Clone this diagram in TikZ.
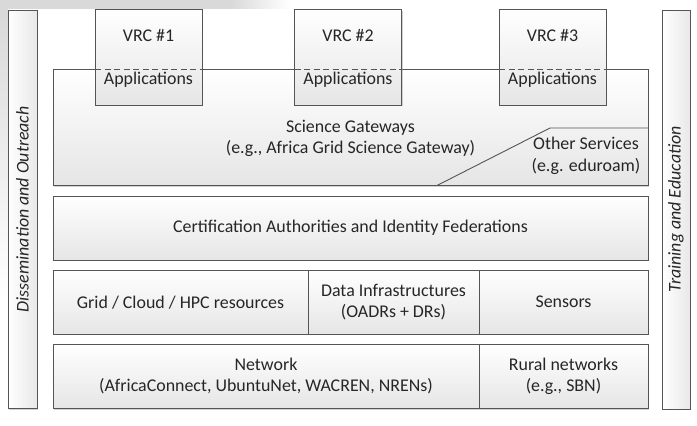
\documentclass[tikz,border=0pt]{standalone}
\usepackage{fontspec}
\setmainfont{Carlito}
\usetikzlibrary{shadows}
\definecolor{edgec}{HTML}{555555}
\definecolor{txt}{HTML}{262626}
\tikzset{
 box/.style={draw=edgec, line width=0.9pt, top color=white, bottom color=black!10,
   drop shadow={shadow xshift=1.3pt, shadow yshift=-1.3pt, fill=black!40, opacity=0.45},
   inner sep=0pt, outer sep=0pt},
 vbar/.style={box, left color=white, right color=black!9},
 lbl/.style={text=txt, font=\fontsize{17.9}{21.5}\selectfont, align=center, inner sep=0pt},
 vlbl/.style={lbl, font=\fontsize{17.9}{21.5}\selectfont\itshape, rotate=90},
 sepline/.style={draw=edgec, line width=0.9pt},
}
\begin{document}
\begin{tikzpicture}[x=1pt,y=-1pt]
\useasboundingbox (0,0) rectangle (697,426);
% background tint at the top-left
\fill[black!15] (0,0) rectangle (230,8.5);
\shade[left color=black!15, right color=white] (230,0) rectangle (290,8.5);
\shade[top color=black!15, bottom color=white] (0,8.5) rectangle (8,300);

% side bars
\node[vbar, minimum width=29pt, minimum height=398.5pt] (diss) at (22.5,209.25) {};
\node[vlbl] (disst) at (diss.center) {Dissemination and Outreach};
\node[vbar, minimum width=28pt, minimum height=399pt] (train) at (676,209.5) {};
\node[vlbl] (traint) at (train.center) {Training and Education};

% science gateways
\node[box, minimum width=595pt, minimum height=116.5pt] (sg) at (350.5,127.25) {};
\node[lbl] (sgt) at (350.5,138.5) {Science Gateways\\(e.g., Africa Grid Science Gateway)};
\coordinate (os1) at (437,185.5);
\coordinate (os2) at (550,128);
\coordinate (os3) at (648,128);
\draw[sepline] (os1) -- (os2) -- (os3);
\node[lbl] (ost) at (586,156) {Other Services\\(e.g. eduroam)};

% VRC boxes
\foreach \n/\cx/\t in {vrc1/148.5/1, vrc2/348/2, vrc3/552.5/3}{
  \node[box, minimum width=107pt, minimum height=95.5pt] (\n) at (\cx,57.25) {};
  \draw[edgec, line width=0.9pt, dash pattern=on 6pt off 3.5pt] (\n.west |- sg.north) -- (\n.east |- sg.north);
  \node[lbl] (\n t) at (\cx,36) {VRC \#\t};
  \node[lbl] (\n a) at (\cx,80) {Applications};
}

% certification
\node[box, minimum width=595pt, minimum height=64pt] (cert) at (350.5,228) {};
\node[lbl] (certt) at (cert.center) {Certification Authorities and Identity Federations};

% resources row
\node[box, minimum width=255pt, minimum height=63.5pt] (grid) at (180.5,302.25) {};
\node[lbl] (gridt) at (grid.center) {Grid / Cloud / HPC resources};
\node[box, minimum width=171pt, minimum height=63.5pt] (data) at (393.5,302.25) {};
\node[lbl] (datat) at (data.center) {Data Infrastructures\\(OADRs + DRs)};
\node[box, minimum width=169pt, minimum height=63.5pt] (sens) at (563.5,302.25) {};
\node[lbl] (senst) at (sens.center) {Sensors};

% network row
\node[box, minimum width=426pt, minimum height=64.5pt] (net) at (266,376.25) {};
\node[lbl] (nett) at (net.center) {Network\\(AfricaConnect, UbuntuNet, WACREN, NRENs)};
\node[box, minimum width=169pt, minimum height=64.5pt] (rural) at (563.5,376.25) {};
\node[lbl] (ruralt) at (rural.center) {Rural networks\\(e.g., SBN)};
\end{tikzpicture}
\end{document}
